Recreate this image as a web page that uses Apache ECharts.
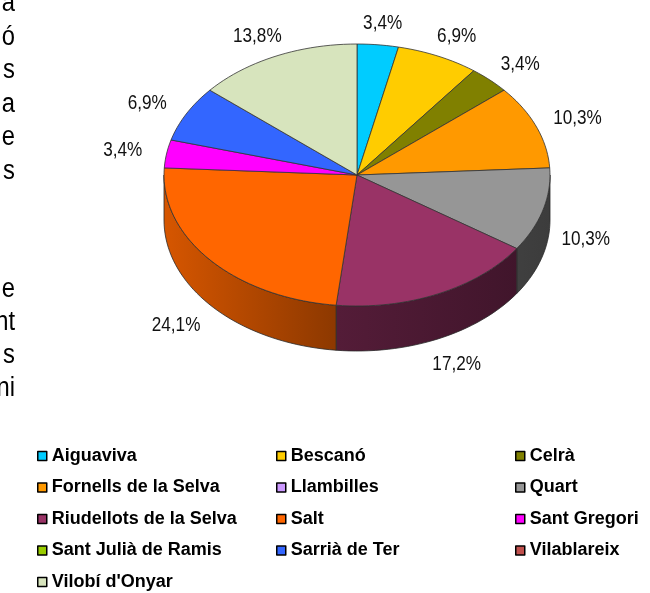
<!DOCTYPE html>
<html>
<head>
<meta charset="utf-8">
<script src="https://cdn.jsdelivr.net/npm/echarts@6/dist/echarts.min.js"></script>
<style>
  html, body { margin: 0; padding: 0; background: #fff; }
  #pie { width: 650px; height: 593px; }
</style>
</head>
<body>
<div id="pie"></div>
<script>
// municipis i casos
const municipis = ['Aiguaviva', 'Bescanó', 'Celrà', 'Fornells de la Selva', 'Llambilles', 'Quart',
  'Riudellots de la Selva', 'Salt', 'Sant Gregori', 'Sant Julià de Ramis', 'Sarrià de Ter', 'Vilablareix', "Vilobí d'Onyar"]
const casos = [1, 2, 1, 3, 0, 3, 5, 7, 1, 0, 2, 0, 4]
const colors = ['#00CCFF', '#FFCC00', '#808000', '#FF9900', '#CC99FF', '#969696',
  '#993366', '#FF6600', '#FF00FF', '#99CC00', '#3366FF', '#C0504D', '#D7E4BD']
// text del document que queda tallat a l'esquerra
const textDalt = ['a', 'ó', 's', 'a', 'e', 's']
const textBaix = ['e', 'nt', 's', 'ni']

const total = casos.reduce((a, b) => a + b, 0)
let acc = 0
const trams = casos.map(v => { const s = acc; acc += v; return [s, acc] })

const FONT = 'Arial, "Liberation Sans", sans-serif'
const RX = 193, RY = 131, DEPTH = 45

function shade(hex, f) {
  const n = parseInt(hex.slice(1), 16)
  const r = Math.round(((n >> 16) & 255) * f)
  const g = Math.round(((n >> 8) & 255) * f)
  const b = Math.round((n & 255) * f)
  return 'rgb(' + r + ',' + g + ',' + b + ')'
}

function renderItem(params, api) {
  const a0 = api.value(0), a1 = api.value(1)
  if (a1 <= a0) return null
  const i = params.dataIndex
  const c = api.coord([0, 0])
  const k = RY / RX
  const pt = (a, dz) => {
    const p = api.coord([1, a])
    return [p[0], c[1] + (p[1] - c[1]) * k + dz]
  }
  const arc = (s, e, dz) => {
    const n = Math.max(2, Math.ceil((e - s) / total * 180))
    const out = []
    for (let j = 0; j <= n; j++) out.push(pt(s + (e - s) * j / n, dz))
    return out
  }
  const children = []

  // paret lateral (només la meitat de davant)
  const s = Math.max(a0, total / 4), e = Math.min(a1, total * 3 / 4)
  if (e > s) {
    const xl = c[0] - RX, xr = c[0] + RX
    children.push({
      type: 'polygon',
      z2: 1,
      shape: { points: arc(s, e, 0).concat(arc(s, e, DEPTH).reverse()) },
      style: {
        fill: new echarts.graphic.LinearGradient(xl, 0, xr, 0, [
          { offset: 0, color: shade(colors[i], 0.84) },
          { offset: 0.45, color: shade(colors[i], 0.55) },
          { offset: 1, color: shade(colors[i], 0.4) }
        ], true),
        stroke: '#2a2a2a',
        lineWidth: 0.8
      }
    })
  }

  // cara de dalt
  children.push({
    type: 'polygon',
    z2: 2,
    shape: { points: [[c[0], c[1]]].concat(arc(a0, a1, 0)) },
    style: { fill: colors[i], stroke: '#333', lineWidth: 0.8 }
  })

  // etiqueta
  const p = api.coord([1, (a0 + a1) / 2])
  const dx = p[0] - c[0], dy = p[1] - c[1]
  let ly = c[1] + dy * k * 1.16
  if (dy > 0) ly += DEPTH * Math.min(1.15, 2 * dy / RX)
  children.push({
    type: 'text',
    z2: 3,
    x: c[0] + dx * 1.23,
    y: ly,
    scaleX: 0.88,
    style: {
      text: ((a1 - a0) / total * 100).toFixed(1).replace('.', ',') + '%',
      fontSize: 19.5,
      fontFamily: FONT,
      fill: '#111',
      align: 'center',
      verticalAlign: 'middle'
    }
  })
  return { type: 'group', children: children }
}

const myChart = echarts.init(document.getElementById('pie'))

const legendCols = [37, 276, 515]

const opt = {
  animation: false,
  polar: { center: [357, 175], radius: RX },
  angleAxis: { type: 'value', min: 0, max: total, startAngle: 90, clockwise: true, show: false },
  radiusAxis: { type: 'value', min: 0, max: 1, show: false },
  legend: legendCols.map((x, col) => ({
    orient: 'vertical',
    left: x,
    top: 446,
    padding: 0,
    itemGap: 11.5,
    itemWidth: 9,
    itemHeight: 9,
    icon: 'rect',
    selectedMode: false,
    itemStyle: { borderColor: '#000', borderWidth: 1.5 },
    textStyle: { fontSize: 18, fontWeight: 'bold', color: '#000', fontFamily: FONT, lineHeight: 20 },
    data: municipis.filter((m, i) => i % 3 === col)
  })),
  graphic: textDalt.map((t, i) => ({ text: t, y: 4 + i * 33.5 }))
    .concat(textBaix.map((t, i) => ({ text: t, y: 290 + i * 33 })))
    .map(d => ({
      type: 'text',
      x: 15,
      y: d.y,
      scaleX: 0.88,
      style: { text: d.text, fontSize: 27, fontFamily: FONT, fill: '#000', align: 'right', verticalAlign: 'middle' }
    })),
  series: [
    {
      // només per a la llegenda
      type: 'pie',
      name: 'llegenda',
      center: [-400, -400],
      radius: [0, 5],
      silent: true,
      label: { show: false },
      data: municipis.map((m, i) => ({ name: m, value: casos[i], itemStyle: { color: colors[i] } }))
    },
    {
      type: 'custom',
      name: 'pastis',
      coordinateSystem: 'polar',
      renderItem: renderItem,
      data: municipis.map((m, i) => ({ name: m, value: trams[i] }))
    }
  ]
}

myChart.setOption(opt)
</script>
</body>
</html>
